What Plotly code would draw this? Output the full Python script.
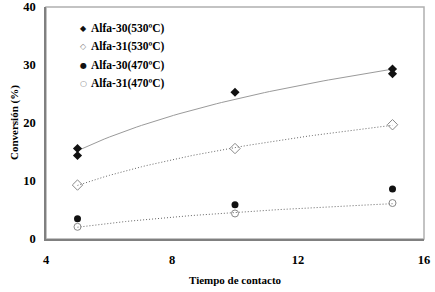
import numpy as np
import plotly.graph_objects as go

x_a30_530 = [5, 5, 10, 15, 15]
y_a30_530 = [15.6, 14.4, 25.3, 29.3, 28.5]
x_a31_530 = [5, 10, 15]
y_a31_530 = [9.3, 15.6, 19.7]
x_a30_470 = [5, 10, 15]
y_a30_470 = [3.5, 5.9, 8.6]
x_a31_470 = [5, 10, 15]
y_a31_470 = [2.1, 4.4, 6.2]

legend_labels = ["Alfa-30(530ºC)", "Alfa-31(530ºC)", "Alfa-30(470ºC)", "Alfa-31(470ºC)"]
legend_glyphs = ["◆", "◇", "●", "○"]
legend_glyph_colors = ["#111111", "#888888", "#111111", "#888888"]

FONT = "Liberation Serif"

def logfit(xs, ys):
    b, a = np.polyfit(np.log(xs), ys, 1)
    xx = np.linspace(min(xs), max(xs), 60)
    return xx, a + b * np.log(xx)

fig = go.Figure()

xx, yy = logfit(x_a30_530, y_a30_530)
fig.add_trace(go.Scatter(x=xx, y=yy, mode="lines", line=dict(color="#9a9a9a", width=1),
                         showlegend=False, hoverinfo="skip"))
xx, yy = logfit(x_a31_530, y_a31_530)
fig.add_trace(go.Scatter(x=xx, y=yy, mode="lines", line=dict(color="#666666", width=1, dash="1px,2px"),
                         showlegend=False, hoverinfo="skip"))
xx, yy = logfit(x_a31_470, y_a31_470)
fig.add_trace(go.Scatter(x=xx, y=yy, mode="lines", line=dict(color="#666666", width=1, dash="1px,2px"),
                         showlegend=False, hoverinfo="skip"))

fig.add_trace(go.Scatter(x=x_a30_530, y=y_a30_530, mode="markers", name=legend_labels[0],
                         marker=dict(symbol="diamond", size=7, color="#111111", line=dict(width=0))))
fig.add_trace(go.Scatter(x=x_a31_530, y=y_a31_530, mode="markers", name=legend_labels[1],
                         marker=dict(symbol="diamond-open", size=8, color="#888888", line=dict(width=1))))
fig.add_trace(go.Scatter(x=x_a30_470, y=y_a30_470, mode="markers", name=legend_labels[2],
                         marker=dict(symbol="circle", size=7, color="#111111", line=dict(width=0))))
fig.add_trace(go.Scatter(x=x_a31_470, y=y_a31_470, mode="markers", name=legend_labels[3],
                         marker=dict(symbol="circle-open", size=7, color="#888888", line=dict(width=1))))

annotations = []
row_y = [28, 46.5, 65, 83.5]
for i, (g, c, lab) in enumerate(zip(legend_glyphs, legend_glyph_colors, legend_labels)):
    ypaper = 1 - (row_y[i] - 7) / 232
    annotations.append(dict(xref="paper", yref="paper", x=(83 - 46) / 378, y=ypaper,
                            text=g, showarrow=False, xanchor="center", yanchor="middle",
                            font=dict(family="DejaVu Sans", size=8, color=c)))
    annotations.append(dict(xref="paper", yref="paper", x=(89 - 46) / 378, y=ypaper,
                            text=lab, showarrow=False, xanchor="left", yanchor="middle",
                            font=dict(family=FONT, size=11.5, color="black", weight="bold")))
annotations.append(dict(xref="paper", yref="paper", x=(235 - 46) / 378, y=-(280 - 239) / 232,
                        text="Tiempo de contacto", showarrow=False, xanchor="center", yanchor="middle",
                        font=dict(family=FONT, size=11, color="black", weight="bold")))
annotations.append(dict(xref="paper", yref="paper", x=-(46 - 14) / 378, y=0.5,
                        text="Conversión (%)", showarrow=False, xanchor="center", yanchor="middle",
                        textangle=-90,
                        font=dict(family=FONT, size=11, color="black", weight="bold")))

fig.update_layout(
    width=435, height=292,
    margin=dict(l=46, r=11, t=7, b=53, autoexpand=False),
    paper_bgcolor="white", plot_bgcolor="white",
    font=dict(family=FONT, size=12, color="black"),
    showlegend=False,
    annotations=annotations,
    shapes=[dict(type="rect", xref="paper", yref="paper", x0=0, y0=0, x1=1, y1=1,
                 line=dict(color="#b0b0b0", width=1.5), layer="below")],
)
fig.update_xaxes(range=[4, 16], dtick=4, tick0=4, showgrid=False, zeroline=False, automargin=False,
                 showline=True, linecolor="#808080", linewidth=1.5, ticks="",
                 tickfont=dict(family=FONT, size=12.5, weight="bold"), ticklabelstandoff=8)
fig.update_yaxes(range=[0, 40], dtick=10, showgrid=False, zeroline=False, automargin=False,
                 showline=True, linecolor="#808080", linewidth=1.5, ticks="",
                 tickfont=dict(family=FONT, size=12.5, weight="bold"), ticklabelstandoff=6)

fig.write_html("out.html", config={"displayModeBar": False},
               post_script="document.body.style.margin='0';document.body.style.overflow='hidden';")
